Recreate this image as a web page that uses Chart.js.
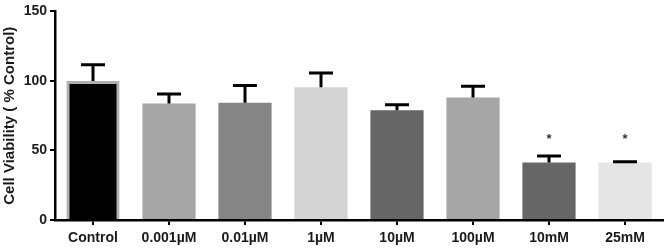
<!DOCTYPE html>
<html>
<head>
<meta charset="utf-8">
<script src="https://cdn.jsdelivr.net/npm/chart.js@4/dist/chart.umd.min.js"></script>
<style>
    html, body { margin: 0; padding: 0; background: #fff; }
    #wrap { width: 666px; height: 248px; }
</style>
</head>
<body>
<div id="wrap"><canvas id="viabilityChart" width="666" height="248"></canvas></div>
<script>
// data
const categories = ["Control", "0.001µM", "0.01µM", "1µM", "10µM", "100µM", "10mM", "25mM"]
const viability = [100, 83.7, 84.4, 95.5, 79, 88, 41.3, 41.3]
const errUp = [11.6, 6.9, 12.3, 10.2, 3.8, 8.2, 4.7, 0.5]
const significance = ["", "", "", "", "", "", "*", "*"]
const yTicks = [0, 50, 100, 150]

const barColors = ["#000000", "#a6a6a6", "#858585", "#d4d4d4", "#666666", "#a6a6a6", "#666666", "#e5e5e5"]
const barBorderWidths = [3, 0, 0, 0, 0, 0, 0, 0]

const FONT = "'Liberation Sans', Arial, sans-serif"

// error bars (upper only) + asterisks
const errorBarPlugin = {
    id: "errorBars",
    afterDatasetsDraw(chart) {
        const ctx = chart.ctx
        const meta = chart.getDatasetMeta(0)
        const yScale = chart.scales.y
        const capHalf = 12
        let starY = null
        ctx.save()
        ctx.strokeStyle = "#000"
        ctx.lineWidth = 3
        meta.data.forEach((bar, i) => {
            const top = yScale.getPixelForValue(viability[i])
            const cap = yScale.getPixelForValue(viability[i] + errUp[i])
            ctx.beginPath()
            ctx.moveTo(bar.x, top)
            ctx.lineTo(bar.x, cap)
            ctx.moveTo(bar.x - capHalf, cap)
            ctx.lineTo(bar.x + capHalf, cap)
            ctx.stroke()
            if (significance[i]) {
                starY = starY === null ? cap : Math.min(starY, cap)
            }
        })
        ctx.fillStyle = "#333"
        ctx.font = "bold 13px " + FONT
        ctx.textAlign = "center"
        ctx.textBaseline = "middle"
        meta.data.forEach((bar, i) => {
            if (significance[i]) {
                ctx.fillText(significance[i], bar.x, starY - 17)
            }
        })
        ctx.restore()
    }
}

function drawChart() {
    const ctx = document.getElementById("viabilityChart").getContext("2d")

    new Chart(ctx, {
        type: "bar",
        data: {
            labels: categories,
            datasets: [{
                data: viability,
                backgroundColor: barColors,
                borderColor: "#b0b0b0",
                borderWidth: barBorderWidths,
                categoryPercentage: 1,
                barPercentage: 0.7
            }]
        },
        options: {
            responsive: false,
            animation: false,
            layout: { padding: { top: 7, right: 3, left: 0, bottom: 0 } },
            plugins: {
                legend: { display: false },
                tooltip: { enabled: false }
            },
            scales: {
                x: {
                    afterFit(scale) { scale.height = 28 },
                    border: { display: true, color: "#000", width: 2.5 },
                    grid: {
                        offset: false,
                        drawOnChartArea: false,
                        drawTicks: true,
                        tickLength: 5,
                        color: "#000",
                        lineWidth: 2
                    },
                    ticks: {
                        color: "#1a1a1a",
                        padding: 5,
                        maxRotation: 0,
                        autoSkip: false,
                        font: { family: FONT, size: 14, weight: "bold" }
                    }
                },
                y: {
                    min: 0,
                    max: 150,
                    afterFit(scale) { scale.width = 55 },
                    afterBuildTicks(scale) {
                        scale.ticks = yTicks.map(v => ({ value: v }))
                    },
                    border: { display: true, color: "#000", width: 2.5 },
                    grid: {
                        drawOnChartArea: false,
                        drawTicks: true,
                        tickLength: 5,
                        color: "#000",
                        lineWidth: 2
                    },
                    ticks: {
                        color: "#1a1a1a",
                        padding: 3,
                        font: { family: FONT, size: 14, weight: "bold" }
                    },
                    title: {
                        display: true,
                        text: "Cell Viability ( % Control)",
                        color: "#1a1a1a",
                        padding: { top: 1, bottom: 0 },
                        font: { family: FONT, size: 15, weight: "bold" }
                    }
                }
            }
        },
        plugins: [errorBarPlugin]
    })
}

drawChart()
</script>
</body>
</html>
